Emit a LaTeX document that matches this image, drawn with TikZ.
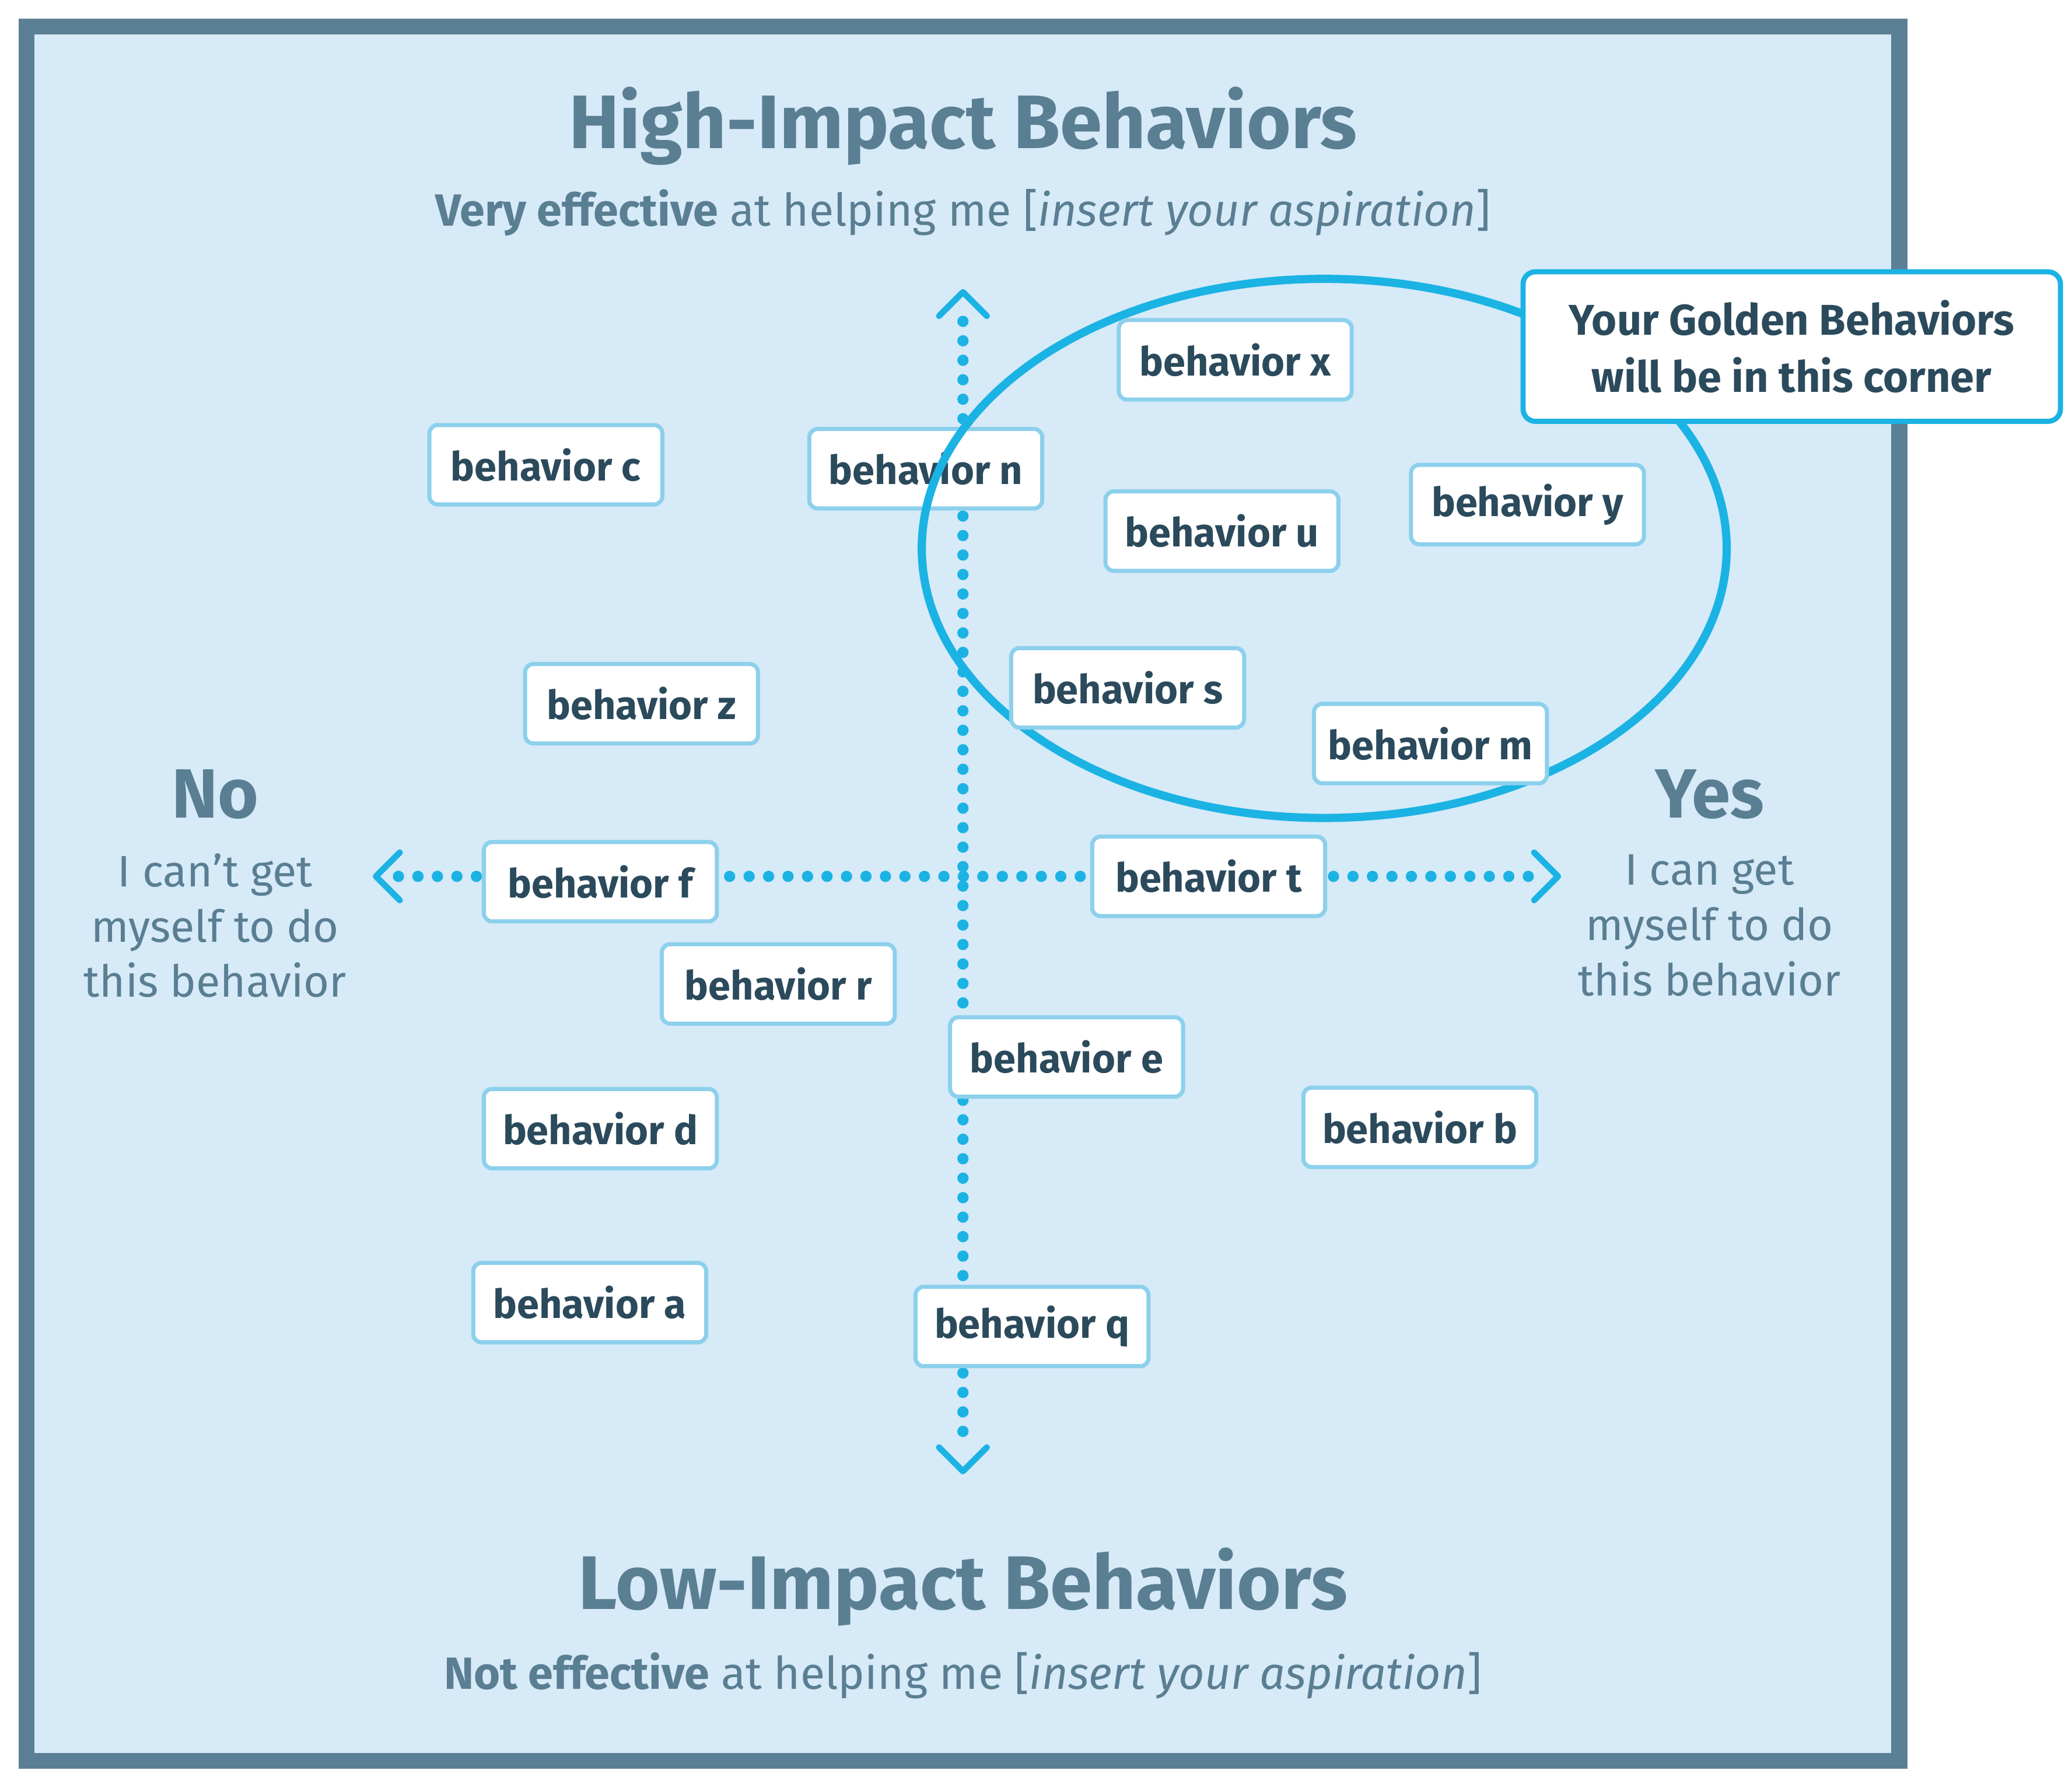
\documentclass[tikz,border=0pt]{standalone}
\usepackage{fontspec}
\setmainfont{Fira Sans}
\usetikzlibrary{arrows.meta}
\definecolor{bg}{HTML}{D6EAF8}
\definecolor{frame}{HTML}{5B7F95}
\definecolor{head}{HTML}{5A7E92}
\definecolor{txt}{HTML}{2B4A5C}
\definecolor{cy}{HTML}{1BB3E3}
\definecolor{bx}{HTML}{8CD0EC}
\begin{document}
\begin{tikzpicture}[x=0.02277cm,y=-0.02277cm,
 beh/.style={draw=bx,line width=2pt,fill=white,rounded corners=4pt,minimum width=176*0.6455pt,minimum height=60*0.6455pt,text=txt,font=\fontsize{19.5}{21}\selectfont\bfseries,inner sep=0pt},
 axis/.style={cy,line width=5.5pt,line cap=round,dash pattern=on 0pt off 9.5pt},
 chev/.style={cy,line width=3pt,line cap=round,line join=round},
 side/.style={align=center,text=head,font=\fontsize{21.5}{27}\selectfont},
 big/.style={text=head,font=\fontsize{34}{36}\selectfont\bfseries}]
\useasboundingbox (0,0) rectangle (1560,1336);
\draw[frame,line width=12*0.6455pt,fill=bg] (20,20) rectangle (1430,1326);
\node[text=head,font=\fontsize{37}{40}\selectfont\bfseries] (t1) at (725,95) {High-Impact Behaviors};
\node[text=head,font=\fontsize{22}{24}\selectfont] (t2) at (725,160) {\textbf{Very effective} at helping me [\textit{insert your aspiration}]};
\node[text=head,font=\fontsize{37}{40}\selectfont\bfseries] (b1) at (725,1195) {Low-Impact Behaviors};
\node[text=head,font=\fontsize{22}{24}\selectfont] (b2) at (725,1262) {\textbf{Not effective} at helping me [\textit{insert your aspiration}]};
\coordinate (top) at (725,220); \coordinate (bot) at (725,1108);
\coordinate (lft) at (283,660); \coordinate (rgt) at (1173,660);
\draw[axis] (725,242) -- (725,1090);
\draw[axis] (300,660) -- (1158,660);
\draw[chev] (707,238) -- (top) -- (743,238);
\draw[chev] (707,1090) -- (bot) -- (743,1090);
\draw[chev] (301,642) -- (lft) -- (301,678);
\draw[chev] (1155,642) -- (rgt) -- (1155,678);
\node[big] (no) at (162,598) {No};
\node[side] (nol) at (162,697) {I can’t get\\myself to do\\this behavior};
\node[big] (yes) at (1287,598) {Yes};
\node[side] (yesl) at (1287,697) {I can get\\myself to do\\this behavior};
\node[beh] (c) at (411,350) {behavior c};
\node[beh] (n) at (697,353) {behavior n};
\draw[cy,line width=4pt] (997,413) ellipse [x radius=303,y radius=203];
\node[beh] (x) at (930,271) {behavior x};
\node[beh] (u) at (920,400) {behavior u};
\node[beh] (y) at (1150,380) {behavior y};
\node[beh] (z) at (483,530) {behavior z};
\node[beh] (s) at (849,518) {behavior s};
\node[beh] (m) at (1077,560) {behavior m};
\node[beh] (f) at (452,664) {behavior f};
\node[beh] (t) at (910,660) {behavior t};
\node[beh] (r) at (586,741) {behavior r};
\node[beh] (e) at (803,796) {behavior e};
\node[beh] (d) at (452,850) {behavior d};
\node[beh] (b) at (1069,849) {behavior b};
\node[beh] (a) at (444,981) {behavior a};
\node[beh] (q) at (777,999) {behavior q};
\node[draw=cy,line width=2.5pt,fill=white,rounded corners=6pt,minimum width=406*0.6455pt,minimum height=113*0.6455pt,align=center,text=txt,font=\fontsize{21}{28}\selectfont\bfseries] (gold) at (1349,261) {Your Golden Behaviors\\will be in this corner};
\end{tikzpicture}
\end{document}
